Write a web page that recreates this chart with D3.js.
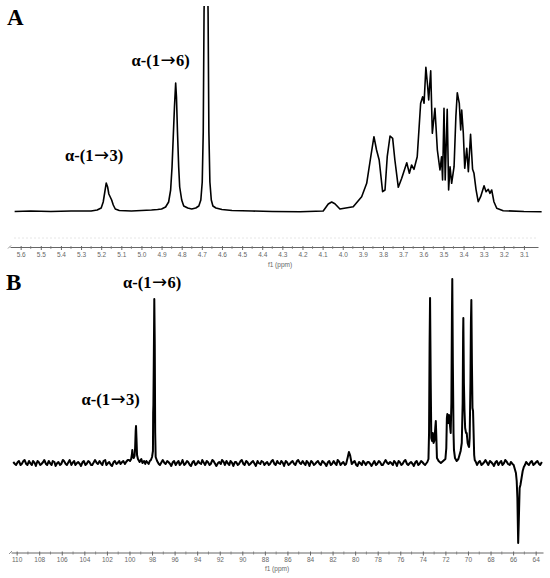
<!DOCTYPE html>
<html><head><meta charset="utf-8">
<script src="https://cdn.jsdelivr.net/npm/d3@7"></script>
<style>body{margin:0;background:#fff}svg{display:block}</style>
</head><body>
<script>
// ---------- DATA ----------
// Panel A: 1H NMR, [ppm, intensity]
const specA = [
 [5.63,0.5],[5.55,1],[5.45,0.5],[5.35,1],[5.25,1],[5.22,2],[5.20,4],[5.19,10],[5.182,20],[5.175,29],[5.168,25],[5.162,18],
 [5.155,15],[5.148,12],[5.14,7],[5.13,3],[5.11,1.5],[5.05,1],[5.0,1.5],[4.95,2],[4.92,2.5],[4.90,3],[4.88,5],[4.865,10],
 [4.855,22],[4.848,45],[4.842,75],[4.836,105],[4.830,129],[4.826,115],[4.821,80],[4.815,45],[4.81,25],[4.80,12],[4.79,6],
 [4.77,4],[4.75,3],[4.73,4],[4.715,6],[4.705,12],[4.698,30],[4.693,80],[4.689,200],[4.679,330],[4.669,200],[4.665,80],
 [4.660,30],[4.653,12],[4.645,6],[4.63,4],[4.60,2.5],[4.55,1.5],[4.45,1],[4.35,0.5],[4.212,0.3],[4.097,1],[4.072,8],
 [4.055,10],[4.039,8.3],[4.014,3],[3.948,5.3],[3.906,15.3],[3.881,28.7],[3.861,55],[3.845,75.3],[3.832,62],[3.819,52],
 [3.802,20.3],[3.790,22],[3.779,55.3],[3.765,76],[3.752,73.7],[3.741,52],[3.724,24.7],[3.707,33.7],[3.682,49.3],
 [3.669,38.7],[3.658,47],[3.646,42.7],[3.630,55.3],[3.613,108.7],[3.603,115.3],[3.596,108.7],[3.587,144.7],[3.578,125.3],
 [3.573,112],[3.563,141.3],[3.555,78.7],[3.542,103.7],[3.530,62],[3.517,42],[3.509,55.3],[3.504,32],[3.497,103.7],
 [3.491,32],[3.481,102.7],[3.474,22],[3.467,45.3],[3.459,28.7],[3.447,45.3],[3.438,95.3],[3.431,119.3],[3.421,108.7],
 [3.414,82],[3.409,102],[3.401,78.7],[3.394,43.7],[3.384,63.7],[3.376,40.3],[3.365,77.7],[3.355,42.7],[3.348,38.7],
 [3.338,22.7],[3.327,10.3],[3.315,15.3],[3.298,26.3],[3.288,20.3],[3.277,22.7],[3.269,18.7],[3.260,22],[3.249,10.3],
 [3.235,3.7],[3.203,1.3],[3.10,0.5],[3.012,0.3]
];
const ticksA = [5.6,5.5,5.4,5.3,5.2,5.1,5.0,4.9,4.8,4.7,4.6,4.5,4.4,4.3,4.2,4.1,4.0,3.9,3.8,3.7,3.6,3.5,3.4,3.3,3.2,3.1];

// Panel B: 13C NMR, [ppm, intensity]
const specB = [
 [110.3,1],[110.15,-1],[110.05,-2],[109.9,1],[109.8,2],[109.65,-2],[109.55,-1],[109.4,2],[109.3,3],[109.15,-1],[109.05,-2],
 [108.9,2],[108.8,0],[108.65,-2],[108.55,2],[108.4,0],[108.3,-3],[108.15,2],[108.05,1],[107.9,-2],[107.8,-1],[107.65,1],
 [107.55,3],[107.4,-1],[107.3,-2],[107.15,2],[107.05,0],[106.9,-2],[106.8,2],[106.65,1],[106.55,-3],[106.4,0],[106.3,1],
 [106.15,-2],[106.05,-1],[105.9,3],[105.8,2],[105.65,-1],[105.55,-2],[105.4,1],[105.3,3],[105.15,-2],[105.05,0],[104.9,2],
 [104.8,-2],[104.65,0],[104.55,1],[104.4,-1],[104.3,-3],[104.15,1],[104.05,2],[103.9,-2],[103.8,-1],[103.65,2],[103.55,1],
 [103.4,-2],[103.3,-2],[103.15,1],[103.05,3],[102.9,0],[102.8,-1],[102.65,2],[102.55,0],[102.4,-2],[102.3,2],[102.15,3],
 [102.05,-2],[101.9,0],[101.8,1],[101.65,-2],[101.55,-3],[101.4,1],[101.3,2],[101.15,-1],[101.05,0],[100.9,2],[100.8,-1],
 [100.65,1],[100.55,2],[100.4,-1],[100.3,1],[100.15,3],[100.05,3],
 [99.95,2],[99.85,4],[99.78,9],[99.75,13],[99.70,6],[99.62,5],[99.55,7],[99.5,15],[99.45,32],[99.42,37],[99.38,25],
 [99.33,8],[99.25,4],[99.1,1],[98.95,4],[98.85,0],[98.7,2],[98.6,-1],[98.5,2],[98.3,-1],[98.2,2],[98.1,3],[98.0,6],[97.92,12],[97.9,50],[97.88,58],
 [97.85,95],[97.80,164],[97.76,120],[97.72,30],[97.68,6],
 [97.55,2],[97.4,-1],[97.3,-2],[97.15,1],[97.05,3],[96.9,0],[96.8,-1],[96.65,2],[96.55,1],[96.4,-1],[96.3,-3],[96.15,1],
 [96.05,2],[95.9,-2],[95.8,0],[95.65,2],[95.55,-2],[95.4,0],[95.3,3],[95.15,-2],[95.05,-1],[94.9,2],[94.8,1],[94.65,-2],
 [94.55,-3],[94.4,1],[94.3,2],[94.15,-2],[94.05,-1],[93.9,2],[93.8,0],[93.65,-1],[93.55,3],[93.4,0],[93.3,-2],[93.15,2],
 [93.05,1],[92.9,-2],[92.8,-1],[92.65,3],[92.55,2],[92.4,-1],[92.3,-3],[92.15,0],[92.05,1],[91.9,-1],[91.8,3],[91.65,1],
 [91.55,-2],[91.4,2],[91.3,0],[91.15,-2],[91.05,2],[90.9,0],[90.8,-3],[90.65,1],[90.55,1],[90.4,-2],[90.3,-1],[90.15,2],
 [90.05,3],[89.9,-1],[89.8,-2],[89.65,2],[89.55,1],[89.4,-2],[89.3,-1],[89.15,1],[89.05,2],[88.9,-1],[88.8,-3],[88.65,2],
 [88.55,0],[88.4,-1],[88.3,2],[88.15,1],[88.05,-2],[87.9,0],[87.8,1],[87.65,-2],[87.55,-1],[87.4,2],[87.3,3],[87.15,-1],
 [87.05,-2],[86.9,2],[86.8,0],[86.65,-1],[86.55,2],[86.4,0],[86.3,-3],[86.15,2],[86.05,1],[85.9,-2],[85.8,-1],[85.65,1],
 [85.55,2],[85.4,-1],[85.3,-2],[85.15,2],[85.05,3],[84.9,0],[84.8,-1],[84.65,2],[84.55,0],[84.4,-2],[84.3,2],[84.15,0],
 [84.05,-3],[83.9,2],[83.8,1],[83.65,-2],[83.55,-1],[83.4,1],[83.3,2],[83.15,-1],[83.05,-2],[82.9,2],[82.8,1],[82.65,-1],
 [82.55,-3],[82.4,1],[82.3,2],[82.15,-2],[82.05,-1],[81.9,2],[81.8,0],[81.65,-2],[81.55,3],[81.4,1],[81.3,-2],[81.15,0],
 [81.05,1],[80.9,-2],[80.8,-1],[80.65,6],[80.55,11],[80.45,8],[80.3,-1],[80.15,1],
 [80.05,2],[79.9,-2],[79.8,-3],[79.65,1],[79.55,0],[79.4,-2],[79.3,2],[79.15,0],[79.05,-2],[78.9,1],[78.8,1],[78.65,-1],
 [78.55,-3],[78.4,0],[78.3,2],[78.15,-2],[78.05,-1],[77.9,2],[77.8,1],[77.65,-2],[77.55,-2],[77.4,1],[77.3,3],[77.15,0],
 [77.05,-1],[76.9,1],[76.8,0],[76.65,-2],[76.55,2],[76.4,0],[76.3,-3],[76.15,2],[76.05,1],[75.9,-2],[75.8,-1],[75.65,2],
 [75.55,3],[75.4,-1],[75.3,-2],[75.15,0],[75.05,1],[74.9,-1],[74.8,-3],[74.65,1],[74.55,2],[74.4,-2],[74.3,-1],[74.15,2],
 [74.05,1],[73.9,-1],[73.8,-2],
 [73.6,1],[73.5,4],[73.45,30],[73.4,120],[73.36,165],[73.3,80],[73.25,25],[73.18,22],[73.12,30],[73.05,20],[72.98,22],
 [72.9,35],[72.85,42],[72.8,25],[72.75,5],[72.6,2],[72.4,0],[72.2,2],[72.0,4],[71.92,15],[71.87,45],[71.83,49],[71.76,40],
 [71.68,48],[71.6,38],[71.53,30],[71.47,60],[71.42,150],[71.39,184],[71.34,100],[71.28,30],[71.24,13],[71.15,5],[71.0,2],
 [70.85,4],[70.75,8],[70.65,12],[70.55,20],[70.47,60],[70.43,130],[70.41,145],[70.36,80],[70.31,53],[70.25,35],[70.17,30],
 [70.11,30],[70.03,20],[69.95,17],[69.9,16],[69.85,25],[69.78,80],[69.74,140],[69.70,163],[69.65,100],[69.6,55],[69.55,52],
 [69.5,30],[69.45,8],[69.4,3],[69.3,1],
 [69.2,-2],[69.05,1],[68.95,2],[68.8,-2],[68.7,-1],[68.55,1],[68.45,3],[68.3,0],[68.2,-2],[68.05,2],[67.95,1],[67.8,-1],
 [67.7,-3],[67.55,1],[67.45,2],[67.3,-2],[67.2,0],[67.05,2],[66.95,-2],[66.8,0],[66.7,3],[66.55,1],[66.45,-1],[66.3,-2],
 [66.2,1],[66.05,-1],
 [65.95,-2],[65.85,-6],[65.75,-10],[65.68,-18],[65.62,-35],[65.55,-80],[65.5,-60],[65.42,-25],[65.35,-22],[65.25,-15],
 [65.15,-8],[65.05,-4],[64.95,-2],
 [64.85,1],[64.7,-1],[64.6,-2],[64.45,1],[64.35,2],[64.2,-2],[64.1,-1],[63.95,1],[63.85,2],[63.7,-1],[63.6,-2],[63.45,1]
];
const ticksB = [110,108,106,104,102,100,98,96,94,92,90,88,86,84,82,80,78,76,74,72,70,68,66,64];

const axisTitle = "f1 (ppm)";
const panelLabels = ["A", "B"];
const peakLabels = [["α-(1", "→", "3)"], ["α-(1", "→", "6)"]];

// ---------- DRAW ----------
const W = 550, H = 578;
const svg = d3.select("body").append("svg").attr("width", W).attr("height", H);

const xA = d3.scaleLinear().domain([5.653, 3.03]).range([10, 538]);
const yA = d3.scaleLinear().domain([0, 206]).range([212, 6]);
const xB = d3.scaleLinear().domain([110.5, 63.35]).range([11, 543]);
const yB = d3.scaleLinear().domain([0, 184]).range([463, 279]);

svg.append("clipPath").attr("id", "clipA").append("rect")
  .attr("x", 0).attr("y", 6).attr("width", W).attr("height", 240);

// faint dotted guide above axis A
svg.append("line").attr("x1", 14).attr("x2", 538).attr("y1", 238).attr("y2", 238)
  .attr("stroke", "#e6e6e6").attr("stroke-width", 1).attr("stroke-dasharray", "2,2");

const lineA = d3.line().x(d => xA(d[0])).y(d => yA(d[1]));
svg.append("path").datum(specA).attr("d", lineA)
  .attr("clip-path", "url(#clipA)")
  .attr("fill", "none").attr("stroke", "#000").attr("stroke-width", 1.6).attr("stroke-linejoin", "round");

const lineB = d3.line().x(d => xB(d[0])).y(d => yB(d[1]));
svg.append("path").datum(specB).attr("d", lineB)
  .attr("fill", "none").attr("stroke", "#000").attr("stroke-width", 2).attr("stroke-linejoin", "round");

function drawAxis(x, ticks, minorStep, y, fmt, titleX, titleY) {
  const g = svg.append("g").attr("transform", `translate(0,${y})`);
  const ax = d3.axisBottom(x).tickValues(ticks).tickFormat(fmt).tickSize(3).tickSizeOuter(0).tickPadding(2);
  g.call(ax);
  g.select(".domain").attr("stroke", "#555").attr("stroke-width", 0.9);
  g.selectAll(".tick line").attr("stroke", "#666").attr("y1", -1);
  g.selectAll(".tick text").attr("fill", "#666").attr("font-family", "Liberation Sans, Arial, sans-serif")
    .attr("font-size", 6.5);
  const minors = ticks.slice(0, -1).map(t => t + minorStep);
  g.selectAll(".minor").data(minors).enter().append("line")
    .attr("x1", d => x(d)).attr("x2", d => x(d)).attr("y1", -1).attr("y2", 2)
    .attr("stroke", "#777").attr("stroke-width", 0.8);
  const x0 = x.range()[0];
  g.append("line").attr("x1", x0 - 2).attr("x2", x0 + 1).attr("y1", 1.5).attr("y2", -1.5)
    .attr("stroke", "#777").attr("stroke-width", 0.8);
  svg.append("text").attr("x", titleX).attr("y", titleY).attr("text-anchor", "middle")
    .attr("fill", "#666").attr("font-family", "Liberation Sans, Arial, sans-serif").attr("font-size", 6.5)
    .text(axisTitle);
}
drawAxis(xA, ticksA, -0.05, 247, d3.format(".1f"), 280, 266.5);
drawAxis(xB, ticksB, -1, 552.5, d3.format("d"), 277, 571);

const serif = "Liberation Serif, Times New Roman, serif";
function label(t, x, y, size) {
  svg.append("text").attr("x", x).attr("y", y).attr("font-family", serif)
    .attr("font-weight", "bold").attr("font-size", size).attr("fill", "#000").text(t);
}
function peakLabel(parts, x, y) {
  const t = svg.append("text").attr("x", x).attr("y", y).attr("font-family", serif)
    .attr("font-weight", "bold").attr("font-size", 16.5).attr("fill", "#000");
  t.append("tspan").text(parts[0]);
  t.append("tspan").attr("font-family", "DejaVu Sans").attr("font-weight", "normal")
    .attr("font-size", 18).attr("dx", 0.5).text(parts[1]);
  t.append("tspan").attr("dx", 0.5).text(parts[2]);
}
label(panelLabels[0], 7, 25, 23);
label(panelLabels[1], 6, 290, 23);
peakLabel(peakLabels[0], 65, 161);
peakLabel(peakLabels[1], 131.5, 66);
peakLabel(peakLabels[0], 81.5, 405);
peakLabel(peakLabels[1], 123, 288);
</script>
</body></html>
